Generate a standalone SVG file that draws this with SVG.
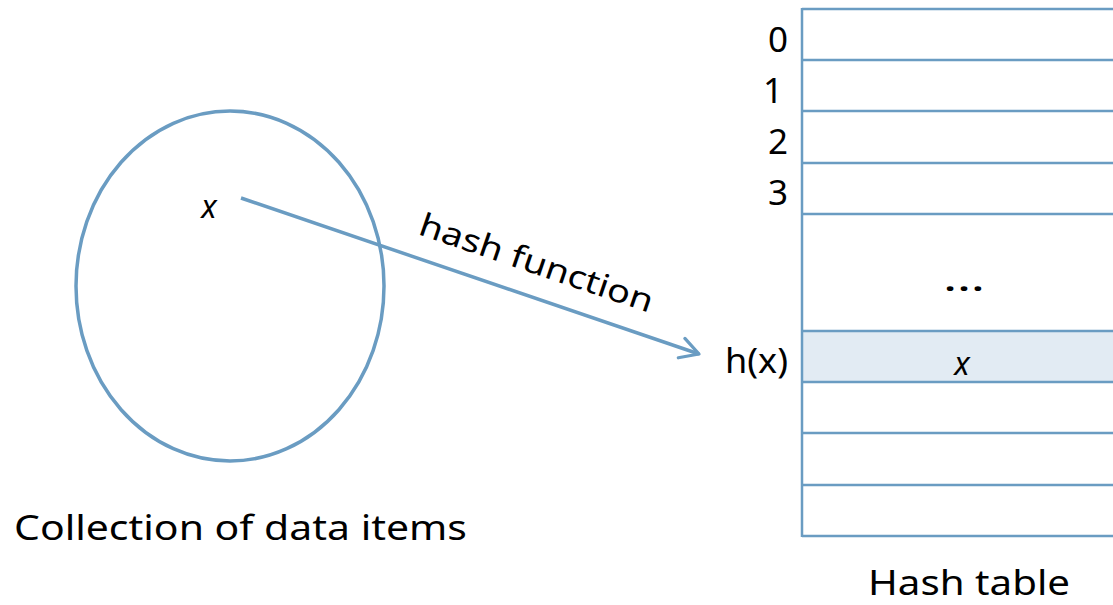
<svg xmlns="http://www.w3.org/2000/svg" width="1113" height="605" viewBox="0 0 1113 605">
  <style>
    .ln { stroke: #6a9cc2; stroke-width: 3.5; fill: none; }
    .row { stroke: #6a9cc2; stroke-width: 2.5; }
    .t { font-family: "Noto Sans", "Liberation Sans", sans-serif; fill: #000; }
    .lbl { font-size: 32px; }
    .num { font-size: 35px; }
    .it { font-style: italic; }
  </style>
  <defs>
    <marker id="open" viewBox="0 0 12 12" refX="10" refY="6" markerWidth="7" markerHeight="7" orient="auto" markerUnits="strokeWidth">
      <path d="M1,1 L10,6 L1,11" fill="none" stroke="#6a9cc2" stroke-width="1.6" stroke-linecap="round" stroke-linejoin="round"/>
    </marker>
  </defs>
  <rect width="1113" height="605" fill="#ffffff"/>

  <g id="collection">
    <ellipse class="ln" cx="230" cy="286" rx="154" ry="175"/>
    <text class="t lbl it" x="209" y="218" text-anchor="middle">x</text>
    <text class="t" x="14" y="540" font-size="35" textLength="453" lengthAdjust="spacingAndGlyphs">Collection of data items</text>
  </g>

  <g id="hash-table">
    <rect x="802" y="331" width="320" height="51" fill="#e2ebf3"/>
    <line class="row" x1="802" y1="8" x2="802" y2="537"/>
    <line class="row" x1="802" y1="9" x2="1113" y2="9"/>
    <line class="row" x1="802" y1="60" x2="1113" y2="60"/>
    <line class="row" x1="802" y1="111" x2="1113" y2="111"/>
    <line class="row" x1="802" y1="163" x2="1113" y2="163"/>
    <line class="row" x1="802" y1="214" x2="1113" y2="214"/>
    <line class="row" x1="802" y1="331" x2="1113" y2="331"/>
    <line class="row" x1="802" y1="382" x2="1113" y2="382"/>
    <line class="row" x1="802" y1="433" x2="1113" y2="433"/>
    <line class="row" x1="802" y1="485" x2="1113" y2="485"/>
    <line class="row" x1="802" y1="536" x2="1113" y2="536"/>
    <text class="t num" x="788" y="52" text-anchor="end">0</text>
    <text class="t num" x="783" y="103" text-anchor="end">1</text>
    <text class="t num" x="788" y="154" text-anchor="end">2</text>
    <text class="t num" x="788" y="205" text-anchor="end">3</text>
    <text class="t" x="943" y="291" font-size="34" textLength="42" lengthAdjust="spacingAndGlyphs">…</text>
    <text class="t num" x="725" y="373" textLength="63" lengthAdjust="spacingAndGlyphs">h(x)</text>
    <text class="t lbl it" x="962" y="375" text-anchor="middle">x</text>
    <text class="t" x="868" y="595" font-size="35" textLength="202" lengthAdjust="spacingAndGlyphs">Hash table</text>
  </g>

  <g id="connectors">
    <line class="ln" x1="241" y1="198" x2="699" y2="354" marker-end="url(#open)"/>
    <text class="t lbl" transform="translate(417,234) rotate(18.8)" textLength="245" lengthAdjust="spacingAndGlyphs">hash function</text>
  </g>
</svg>
